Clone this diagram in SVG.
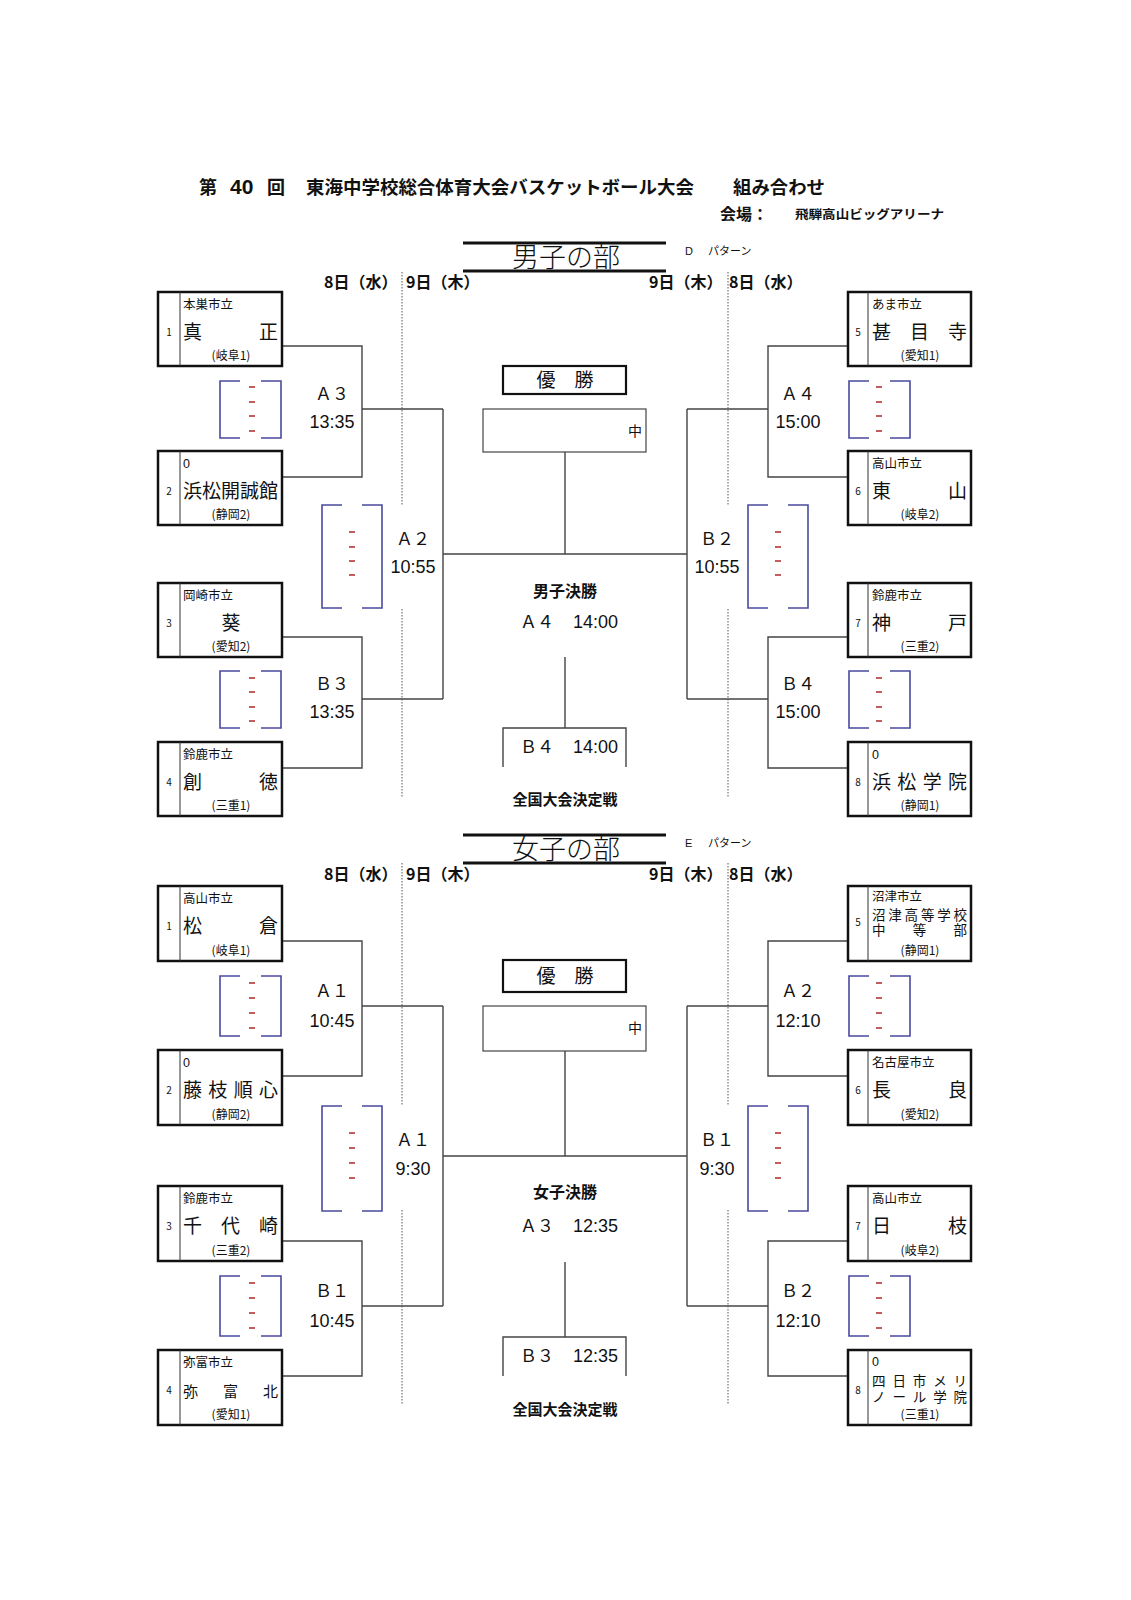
<svg xmlns="http://www.w3.org/2000/svg" width="1131" height="1600" viewBox="0 0 1131 1600">
<style>
text{font-family:"Noto Sans CJK JP","Liberation Sans",sans-serif;fill:#111}
.lat{font-family:"Liberation Sans","Noto Sans CJK JP",sans-serif}
.b{font-weight:bold}
.box{fill:#fff;stroke:#111;stroke-width:2.5}
.div{stroke:#333;stroke-width:1}
.ln{fill:none;stroke:#444;stroke-width:1.4}
.dot{fill:none;stroke:#555;stroke-width:1;stroke-dasharray:1.5 1.5}
.brk{fill:none;stroke:#4a4aa0;stroke-width:1.6}
.dash{stroke:#b02828;stroke-width:1.6}
.no{font-size:10px;text-anchor:middle}
.hd{font-size:12.5px}
.nm{font-size:19px}
.nm2{font-size:15px}
.nm3{font-size:13.5px}
.rg{font-size:12px;text-anchor:middle}
.lab{font-size:17px;text-anchor:middle}
.tm{font-size:18px;text-anchor:middle;font-family:"Liberation Sans",sans-serif}
.date{font-size:16px;font-weight:bold}
.sec{font-size:27px;text-anchor:middle;font-weight:300}
.pat{font-size:11px}
.hl{stroke:#111;stroke-width:3}
.champ{fill:#fff;stroke:#444;stroke-width:1.2}
.yu{fill:#fff;stroke:#111;stroke-width:2.2}
.mid{text-anchor:middle}
</style>

<!-- Header -->
<g id="header">
<text x="199" y="194" class="b" font-size="18">第</text>
<text x="230" y="194" class="lat b" font-size="21">40</text>
<text x="267" y="194" class="b" font-size="18">回</text>
<text x="306" y="194" class="b" font-size="18" textLength="388" lengthAdjust="spacingAndGlyphs">東海中学校総合体育大会バスケットボール大会</text>
<text x="733" y="194" class="b" font-size="18" textLength="92" lengthAdjust="spacingAndGlyphs">組み合わせ</text>
<text x="720" y="220" class="b" font-size="16">会場：</text>
<text x="795" y="219" class="b" font-size="12.5" textLength="149" lengthAdjust="spacingAndGlyphs">飛騨高山ビッグアリーナ</text>
</g>

<!-- ================= MEN ================= -->
<g id="men-title">
<line x1="463" y1="243" x2="666" y2="243" class="hl"/>
<line x1="463" y1="271" x2="666" y2="271" class="hl"/>
<text x="566" y="267" class="sec">男子の部</text>
<text x="685" y="255" class="pat lat">D</text>
<text x="708" y="255" class="pat">パターン</text>
<text x="324" y="288" class="date">8日（水）</text>
<text x="406" y="288" class="date">9日（木）</text>
<text x="649" y="288" class="date">9日（木）</text>
<text x="729" y="288" class="date">8日（水）</text>
</g>

<g id="men-connectors">
<path class="ln" d="M282 346H362V477H282M362 409H443M282 637H362V768H282M362 699H443M443 409V699M443 554H687M687 409V699"/>
<path class="ln" d="M848 346H768V477H848M768 409H687M848 637H768V768H848M768 699H687"/>
<path class="ln" d="M565 452V554M565 657V728M503 767V728H626V767"/>
<path class="dot" d="M402 272V505M402 609V797M728 272V505M728 609V797"/>
<path class="brk" d="M240 381H220V438H240M261 381H281V438H261"/>
<path class="dash" d="M249 387H255M249 402H255M249 416H255M249 431H255"/>
<path class="brk" d="M240 671H220V728H240M261 671H281V728H261"/>
<path class="dash" d="M249 678H255M249 692H255M249 707H255M249 721H255"/>
<path class="brk" d="M342 505H322V608H342M362 505H382V608H362"/>
<path class="dash" d="M349 532H355M349 547H355M349 561H355M349 575H355"/>
<path class="brk" d="M869 381H849V438H869M890 381H910V438H890"/>
<path class="dash" d="M876 387H882M876 402H882M876 416H882M876 431H882"/>
<path class="brk" d="M869 671H849V728H869M890 671H910V728H890"/>
<path class="dash" d="M876 678H882M876 692H882M876 707H882M876 721H882"/>
<path class="brk" d="M768 505H748V608H768M788 505H808V608H788"/>
<path class="dash" d="M775 532H781M775 547H781M775 561H781M775 575H781"/>
</g>

<g id="men-match-labels">
<text x="332" y="400" class="lab">Ａ３</text><text x="332" y="428" class="tm">13:35</text>
<text x="332" y="690" class="lab">Ｂ３</text><text x="332" y="718" class="tm">13:35</text>
<text x="413" y="545" class="lab">Ａ２</text><text x="413" y="573" class="tm">10:55</text>
<text x="798" y="400" class="lab">Ａ４</text><text x="798" y="428" class="tm">15:00</text>
<text x="798" y="690" class="lab">Ｂ４</text><text x="798" y="718" class="tm">15:00</text>
<text x="717" y="545" class="lab">Ｂ２</text><text x="717" y="573" class="tm">10:55</text>
</g>

<g id="men-final">
<rect x="503" y="366" width="123" height="28" class="yu"/>
<text x="565" y="387" class="mid" font-size="19">優　勝</text>
<rect x="483" y="409" width="163" height="43" class="champ"/>
<text x="635" y="436" class="mid" font-size="14">中</text>
<text x="565" y="597" class="mid b" font-size="16">男子決勝</text>
<text x="520" y="628" font-size="17">Ａ４</text><text x="618" y="628" class="lat" font-size="18" text-anchor="end">14:00</text>
<text x="520" y="753" font-size="17">Ｂ４</text><text x="618" y="753" class="lat" font-size="18" text-anchor="end">14:00</text>
<text x="565" y="805" class="mid b" font-size="15">全国大会決定戦</text>
</g>

<g id="m-team1"><rect x="158" y="292" width="124" height="74" class="box"/><line x1="180" y1="292" x2="180" y2="366" class="div"/>
<text x="169" y="336" class="no">1</text><text x="183" y="309" class="hd">本巣市立</text><text x="183" y="339" class="nm" textLength="95" lengthAdjust="spacing">真正</text><text x="231" y="360" class="rg">(岐阜1)</text></g>
<g id="m-team2"><rect x="158" y="451" width="124" height="74" class="box"/><line x1="180" y1="451" x2="180" y2="525" class="div"/>
<text x="169" y="495" class="no">2</text><text x="183" y="468" class="hd lat" font-size="11">0</text><text x="183" y="498" class="nm" textLength="95" lengthAdjust="spacing">浜松開誠館</text><text x="231" y="519" class="rg">(静岡2)</text></g>
<g id="m-team3"><rect x="158" y="583" width="124" height="74" class="box"/><line x1="180" y1="583" x2="180" y2="657" class="div"/>
<text x="169" y="627" class="no">3</text><text x="183" y="600" class="hd">岡崎市立</text><text x="231" y="630" class="nm mid">葵</text><text x="231" y="651" class="rg">(愛知2)</text></g>
<g id="m-team4"><rect x="158" y="742" width="124" height="74" class="box"/><line x1="180" y1="742" x2="180" y2="816" class="div"/>
<text x="169" y="786" class="no">4</text><text x="183" y="759" class="hd">鈴鹿市立</text><text x="183" y="789" class="nm" textLength="95" lengthAdjust="spacing">創徳</text><text x="231" y="810" class="rg">(三重1)</text></g>

<g id="m-team5"><rect x="848" y="292" width="123" height="74" class="box"/><line x1="868" y1="292" x2="868" y2="366" class="div"/>
<text x="858" y="336" class="no">5</text><text x="872" y="309" class="hd">あま市立</text><text x="872" y="339" class="nm" textLength="95" lengthAdjust="spacing">甚目寺</text><text x="920" y="360" class="rg">(愛知1)</text></g>
<g id="m-team6"><rect x="848" y="451" width="123" height="74" class="box"/><line x1="868" y1="451" x2="868" y2="525" class="div"/>
<text x="858" y="495" class="no">6</text><text x="872" y="468" class="hd">高山市立</text><text x="872" y="498" class="nm" textLength="95" lengthAdjust="spacing">東山</text><text x="920" y="519" class="rg">(岐阜2)</text></g>
<g id="m-team7"><rect x="848" y="583" width="123" height="74" class="box"/><line x1="868" y1="583" x2="868" y2="657" class="div"/>
<text x="858" y="627" class="no">7</text><text x="872" y="600" class="hd">鈴鹿市立</text><text x="872" y="630" class="nm" textLength="95" lengthAdjust="spacing">神戸</text><text x="920" y="651" class="rg">(三重2)</text></g>
<g id="m-team8"><rect x="848" y="742" width="123" height="74" class="box"/><line x1="868" y1="742" x2="868" y2="816" class="div"/>
<text x="858" y="786" class="no">8</text><text x="872" y="759" class="hd lat" font-size="11">0</text><text x="872" y="789" class="nm" textLength="95" lengthAdjust="spacing">浜松学院</text><text x="920" y="810" class="rg">(静岡1)</text></g>

<!-- ================= WOMEN ================= -->
<g id="women-title">
<line x1="463" y1="835" x2="666" y2="835" class="hl"/>
<line x1="463" y1="863" x2="666" y2="863" class="hl"/>
<text x="566" y="859" class="sec">女子の部</text>
<text x="685" y="847" class="pat lat">E</text>
<text x="708" y="847" class="pat">パターン</text>
<text x="324" y="880" class="date">8日（水）</text>
<text x="406" y="880" class="date">9日（木）</text>
<text x="649" y="880" class="date">9日（木）</text>
<text x="729" y="880" class="date">8日（水）</text>
</g>

<g id="women-connectors">
<path class="ln" d="M282 941H362V1076H282M362 1006H443M282 1241H362V1376H282M362 1306H443M443 1006V1306M443 1156H687M687 1006V1306"/>
<path class="ln" d="M848 941H768V1076H848M768 1006H687M848 1241H768V1376H848M768 1306H687"/>
<path class="ln" d="M565 1051V1156M565 1262V1337M503 1376V1337H626V1376"/>
<path class="dot" d="M402 863V1105M402 1210V1405M728 863V1105M728 1210V1405"/>
<path class="brk" d="M240 976H220V1036H240M261 976H281V1036H261"/>
<path class="dash" d="M249 983H255M249 998H255M249 1013H255M249 1028H255"/>
<path class="brk" d="M240 1276H220V1336H240M261 1276H281V1336H261"/>
<path class="dash" d="M249 1283H255M249 1298H255M249 1313H255M249 1328H255"/>
<path class="brk" d="M342 1106H322V1211H342M362 1106H382V1211H362"/>
<path class="dash" d="M349 1133H355M349 1148H355M349 1163H355M349 1178H355"/>
<path class="brk" d="M869 976H849V1036H869M890 976H910V1036H890"/>
<path class="dash" d="M876 983H882M876 998H882M876 1013H882M876 1028H882"/>
<path class="brk" d="M869 1276H849V1336H869M890 1276H910V1336H890"/>
<path class="dash" d="M876 1283H882M876 1298H882M876 1313H882M876 1328H882"/>
<path class="brk" d="M768 1106H748V1211H768M788 1106H808V1211H788"/>
<path class="dash" d="M775 1133H781M775 1148H781M775 1163H781M775 1178H781"/>
</g>

<g id="women-match-labels">
<text x="332" y="997" class="lab">Ａ１</text><text x="332" y="1027" class="tm">10:45</text>
<text x="332" y="1297" class="lab">Ｂ１</text><text x="332" y="1327" class="tm">10:45</text>
<text x="413" y="1146" class="lab">Ａ１</text><text x="413" y="1175" class="tm">9:30</text>
<text x="798" y="997" class="lab">Ａ２</text><text x="798" y="1027" class="tm">12:10</text>
<text x="798" y="1297" class="lab">Ｂ２</text><text x="798" y="1327" class="tm">12:10</text>
<text x="717" y="1146" class="lab">Ｂ１</text><text x="717" y="1175" class="tm">9:30</text>
</g>

<g id="women-final">
<rect x="503" y="960" width="123" height="32" class="yu"/>
<text x="565" y="983" class="mid" font-size="19">優　勝</text>
<rect x="483" y="1006" width="163" height="45" class="champ"/>
<text x="635" y="1033" class="mid" font-size="14">中</text>
<text x="565" y="1198" class="mid b" font-size="16">女子決勝</text>
<text x="520" y="1232" font-size="17">Ａ３</text><text x="618" y="1232" class="lat" font-size="18" text-anchor="end">12:35</text>
<text x="520" y="1362" font-size="17">Ｂ３</text><text x="618" y="1362" class="lat" font-size="18" text-anchor="end">12:35</text>
<text x="565" y="1415" class="mid b" font-size="15">全国大会決定戦</text>
</g>

<g id="w-team1"><rect x="158" y="886" width="124" height="75" class="box"/><line x1="180" y1="886" x2="180" y2="961" class="div"/>
<text x="169" y="930" class="no">1</text><text x="183" y="903" class="hd">高山市立</text><text x="183" y="933" class="nm" textLength="95" lengthAdjust="spacing">松倉</text><text x="231" y="955" class="rg">(岐阜1)</text></g>
<g id="w-team2"><rect x="158" y="1050" width="124" height="75" class="box"/><line x1="180" y1="1050" x2="180" y2="1125" class="div"/>
<text x="169" y="1094" class="no">2</text><text x="183" y="1067" class="hd lat" font-size="11">0</text><text x="183" y="1097" class="nm" textLength="95" lengthAdjust="spacing">藤枝順心</text><text x="231" y="1119" class="rg">(静岡2)</text></g>
<g id="w-team3"><rect x="158" y="1186" width="124" height="75" class="box"/><line x1="180" y1="1186" x2="180" y2="1261" class="div"/>
<text x="169" y="1230" class="no">3</text><text x="183" y="1203" class="hd">鈴鹿市立</text><text x="183" y="1233" class="nm" textLength="95" lengthAdjust="spacing">千代崎</text><text x="231" y="1255" class="rg">(三重2)</text></g>
<g id="w-team4"><rect x="158" y="1350" width="124" height="75" class="box"/><line x1="180" y1="1350" x2="180" y2="1425" class="div"/>
<text x="169" y="1394" class="no">4</text><text x="183" y="1367" class="hd">弥富市立</text><text x="183" y="1397" class="nm2" textLength="95" lengthAdjust="spacing">弥富北</text><text x="231" y="1419" class="rg">(愛知1)</text></g>

<g id="w-team5"><rect x="848" y="886" width="123" height="75" class="box"/><line x1="868" y1="886" x2="868" y2="961" class="div"/>
<text x="858" y="926" class="no">5</text><text x="872" y="901" class="hd">沼津市立</text><text x="872" y="920" class="nm3" textLength="95" lengthAdjust="spacing">沼津高等学校</text><text x="872" y="935" class="nm3" textLength="95" lengthAdjust="spacing">中等部</text><text x="920" y="955" class="rg">(静岡1)</text></g>
<g id="w-team6"><rect x="848" y="1050" width="123" height="75" class="box"/><line x1="868" y1="1050" x2="868" y2="1125" class="div"/>
<text x="858" y="1094" class="no">6</text><text x="872" y="1067" class="hd">名古屋市立</text><text x="872" y="1097" class="nm" textLength="95" lengthAdjust="spacing">長良</text><text x="920" y="1119" class="rg">(愛知2)</text></g>
<g id="w-team7"><rect x="848" y="1186" width="123" height="75" class="box"/><line x1="868" y1="1186" x2="868" y2="1261" class="div"/>
<text x="858" y="1230" class="no">7</text><text x="872" y="1203" class="hd">高山市立</text><text x="872" y="1233" class="nm" textLength="95" lengthAdjust="spacing">日枝</text><text x="920" y="1255" class="rg">(岐阜2)</text></g>
<g id="w-team8"><rect x="848" y="1350" width="123" height="75" class="box"/><line x1="868" y1="1350" x2="868" y2="1425" class="div"/>
<text x="858" y="1394" class="no">8</text><text x="872" y="1366" class="hd lat" font-size="11">0</text><text x="872" y="1386" class="nm3" textLength="95" lengthAdjust="spacing">四日市メリ</text><text x="872" y="1402" class="nm3" textLength="95" lengthAdjust="spacing">ノール学院</text><text x="920" y="1419" class="rg">(三重1)</text></g>
</svg>
